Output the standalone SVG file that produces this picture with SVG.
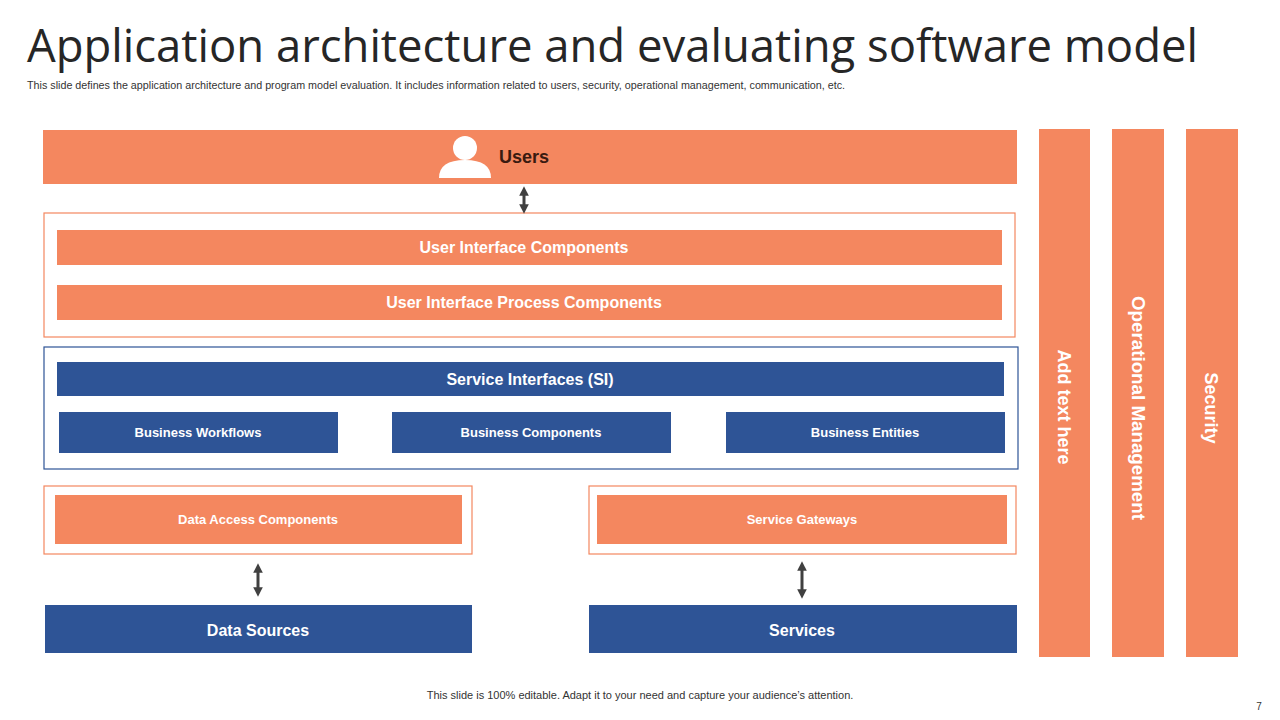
<svg xmlns="http://www.w3.org/2000/svg" width="1280" height="720" viewBox="0 0 1280 720">
<style>
.o{fill:#F4875F}.b{fill:#2E5496}.ob{fill:none;stroke:#F4875F;stroke-width:1.2}.bb{fill:none;stroke:#2E5496;stroke-width:1.2}
text{font-family:"Liberation Sans",Arial,sans-serif;text-anchor:middle}
.w{fill:#fff;font-weight:bold}
.a{stroke:#404040;stroke-width:3;fill:none;marker-start:url(#h);marker-end:url(#h)}
</style>
<defs><marker id="h" viewBox="0 0 10 10" refX="5" refY="5" markerWidth="3.2" markerHeight="3.2" orient="auto-start-reverse"><path d="M0,0L10,5L0,10z" fill="#404040"/></marker></defs>
<rect width="1280" height="720" fill="#fff"/>
<text x="27" y="62" textLength="1171" lengthAdjust="spacingAndGlyphs" style="text-anchor:start;font-family:'Open Sans','Liberation Sans',sans-serif;font-size:45px;fill:#262626">Application architecture and evaluating software model</text>
<text x="27" y="89" textLength="818" lengthAdjust="spacingAndGlyphs" style="text-anchor:start;font-size:10.5px;fill:#333">This slide defines the application architecture and program model evaluation. It includes information related to users, security, operational management,  communication, etc.</text>
<g id="users"><rect class="o" x="43" y="130" width="974" height="54"/>
<circle cx="465" cy="148" r="12" fill="#fff"/><path d="M439,178 Q439,160 465,160 Q491,160 491,178Z" fill="#fff"/>
<text x="524" y="163" style="font-weight:bold;font-size:18px;fill:#3a1a10">Users</text></g>
<g id="ui"><rect class="ob" x="44" y="213" width="971" height="124"/>
<rect class="o" x="57" y="230" width="945" height="35"/><text class="w" x="524" y="253" font-size="16">User Interface Components</text>
<rect class="o" x="57" y="285" width="945" height="35"/><text class="w" x="524" y="308" font-size="16">User Interface Process Components</text></g>
<g id="biz"><rect class="bb" x="44" y="347" width="974" height="122"/>
<rect class="b" x="57" y="362" width="947" height="34"/><text class="w" x="530" y="385" font-size="16">Service Interfaces (SI)</text>
<rect class="b" x="59" y="412" width="279" height="41"/><text class="w" x="198" y="437" font-size="13">Business  Workflows</text>
<rect class="b" x="392" y="412" width="279" height="41"/><text class="w" x="531" y="437" font-size="13">Business  Components</text>
<rect class="b" x="726" y="412" width="279" height="41"/><text class="w" x="865" y="437" font-size="13">Business  Entities</text></g>
<g id="dac"><rect class="ob" x="44" y="486" width="428" height="68"/><rect class="o" x="55" y="495" width="407" height="49"/><text class="w" x="258" y="524" font-size="13">Data Access  Components</text></g>
<g id="sg"><rect class="ob" x="589" y="486" width="427" height="68"/><rect class="o" x="597" y="495" width="410" height="49"/><text class="w" x="802" y="524" font-size="13">Service Gateways</text></g>
<g id="ds"><rect class="b" x="45" y="605" width="427" height="48"/><text class="w" x="258" y="636" font-size="16">Data Sources</text></g>
<g id="sv"><rect class="b" x="589" y="605" width="428" height="48"/><text class="w" x="802" y="636" font-size="16">Services</text></g>
<g id="side">
<rect class="o" x="1039" y="129" width="51" height="528"/><text class="w" font-size="18" transform="translate(1058,407) rotate(90)">Add text here</text>
<rect class="o" x="1112" y="129" width="52" height="528"/><text class="w" font-size="18" textLength="224" lengthAdjust="spacingAndGlyphs" transform="translate(1132,408) rotate(90)">Operational Management</text>
<rect class="o" x="1186" y="129" width="52" height="528"/><text class="w" font-size="18" transform="translate(1205,408) rotate(90)">Security</text></g>
<g id="connectors">
<line class="a" x1="524" y1="191" x2="524" y2="209"/>
<line class="a" x1="258" y1="568" x2="258" y2="592"/>
<line class="a" x1="802" y1="566" x2="802" y2="594"/></g>
<text x="640" y="699" font-size="11" fill="#333">This slide is 100% editable. Adapt it to your need and capture your audience’s attention.</text>
<text x="1259" y="710" font-size="10" fill="#333">7</text>
</svg>
